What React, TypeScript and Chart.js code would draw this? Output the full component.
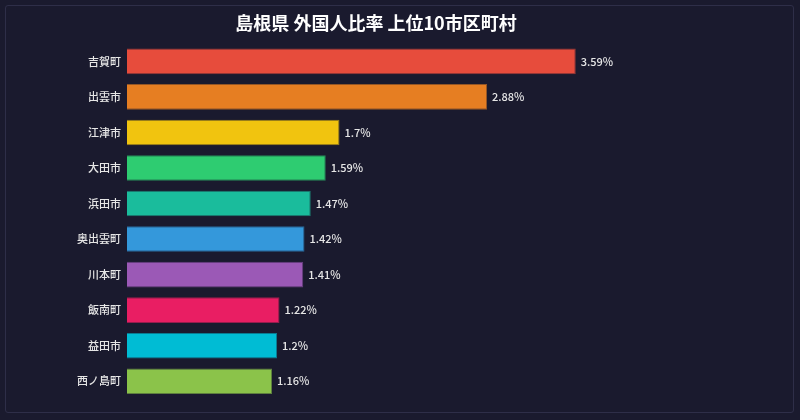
import React, { useEffect, useRef } from "react";
import { Chart, registerables } from "chart.js";

Chart.register(...registerables);

const TITLE = "島根県 外国人比率 上位10市区町村";
const categories = ["吉賀町", "出雲市", "江津市", "大田市", "浜田市", "奥出雲町", "川本町", "飯南町", "益田市", "西ノ島町"];
const ratios = [3.59, 2.88, 1.7, 1.59, 1.47, 1.42, 1.41, 1.22, 1.2, 1.16];
const barColors = ["#e74c3c", "#e67e22", "#f1c40f", "#2ecc71", "#1abc9c", "#3498db", "#9b59b6", "#e91e63", "#00bcd4", "#8bc34a"];

const FONT = "'Noto Sans CJK JP', 'Noto Sans', sans-serif";

const valueLabels = {
  id: "valueLabels",
  afterDatasetsDraw(chart: any) {
    const ctx = chart.ctx;
    const meta = chart.getDatasetMeta(0);
    ctx.save();
    ctx.font = `500 11px ${FONT}`;
    ctx.fillStyle = "#e6e6e6";
    ctx.textAlign = "left";
    ctx.textBaseline = "middle";
    meta.data.forEach((bar: any, i: number) => {
      ctx.fillText(`${ratios[i]}%`, bar.x + 5, bar.y);
    });
    ctx.restore();
  },
};

export default function App() {
  const ref = useRef<HTMLCanvasElement>(null);
  useEffect(() => {
    document.body.style.margin = "0";
    document.body.style.background = "#1a1a2e";
    const chart = new Chart(ref.current!, {
      type: "bar",
      data: {
        labels: categories,
        datasets: [
          {
            data: ratios,
            backgroundColor: barColors,
            borderColor: barColors.map((c) => c + "99"),
            borderWidth: 1,
          },
        ],
      },
      options: {
        indexAxis: "y",
        animation: false,
        responsive: false,
        maintainAspectRatio: false,
        layout: { padding: { left: 0, right: 48, top: 0, bottom: 21 } },
        plugins: {
          legend: { display: false },
          tooltip: { enabled: false },
          title: {
            display: true,
            text: TITLE,
            color: "#ffffff",
            font: { size: 18, weight: "bold", family: FONT },
            padding: { top: 12, bottom: 10 },
          },
        },
        scales: {
          x: { display: false, min: 0, max: 5 },
          y: {
            grid: { display: false, drawTicks: false },
            border: { display: false },
            ticks: { color: "#e6e6e6", font: { size: 11, family: FONT, weight: "500" }, padding: 6 },
            afterFit(scale: any) {
              scale.width = 127;
            },
          },
        },
      },
      plugins: [valueLabels],
    });
    return () => chart.destroy();
  }, []);
  return (
    <div style={{ position: "relative", width: 800, height: 420, background: "#1a1a2e", overflow: "hidden" }}>
      <div
        style={{
          position: "absolute",
          left: 5,
          top: 5,
          width: 787,
          height: 406,
          border: "1px solid #2e2e48",
          borderRadius: 3,
        }}
      />
      <canvas ref={ref} width={800} height={420} style={{ position: "absolute", left: 0, top: 0 }} />
    </div>
  );
}
